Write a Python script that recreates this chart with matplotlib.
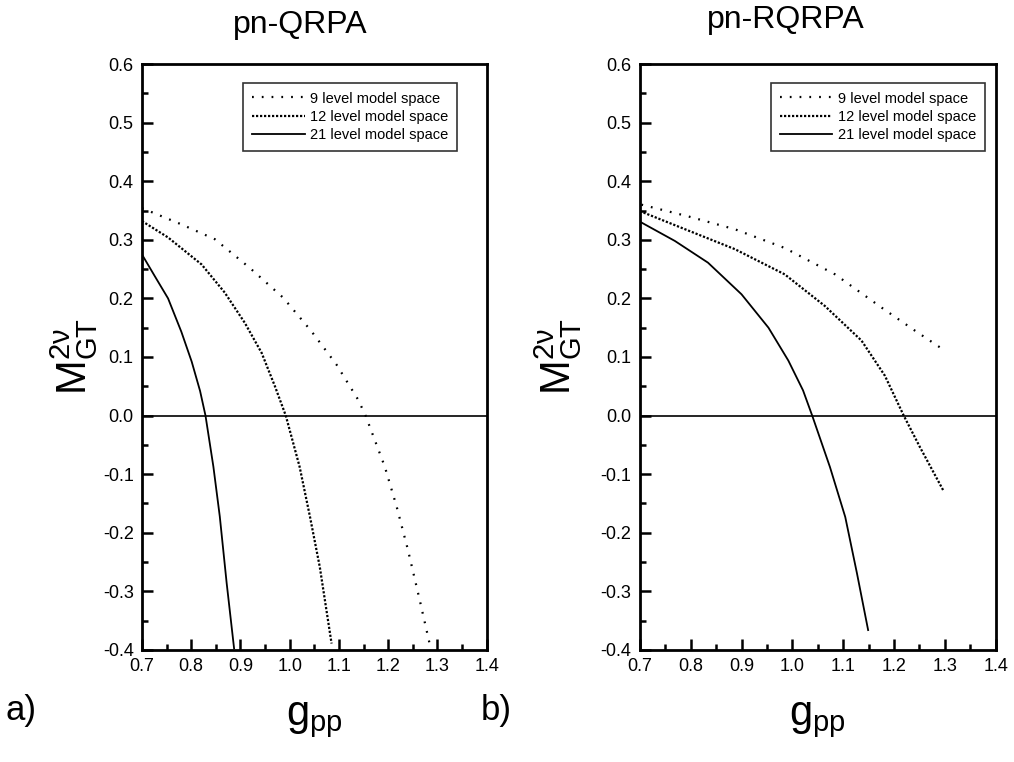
import matplotlib
matplotlib.use("Agg")
import matplotlib.pyplot as plt
from matplotlib.ticker import MultipleLocator, FormatStrFormatter

plt.rcParams['font.family'] = ['Liberation Sans', 'DejaVu Sans']
plt.rcParams['mathtext.fontset'] = 'custom'
plt.rcParams['mathtext.rm'] = 'Liberation Sans'
plt.rcParams['mathtext.it'] = 'Liberation Sans'

# pn-QRPA (panel a)
qrpa_9_x = [0.70, 0.706, 0.781, 0.848, 0.919, 0.987, 1.044, 1.095, 1.139, 1.154,
            1.193, 1.217, 1.240, 1.264, 1.284]
qrpa_9_y = [0.354, 0.352, 0.326, 0.301, 0.252, 0.201, 0.144, 0.087, 0.027, 0.0,
            -0.087, -0.155, -0.229, -0.315, -0.389]
qrpa_12_x = [0.70, 0.753, 0.821, 0.868, 0.909, 0.943, 0.970, 0.992, 1.020, 1.041,
             1.061, 1.085]
qrpa_12_y = [0.332, 0.304, 0.258, 0.210, 0.158, 0.107, 0.050, 0.0, -0.087, -0.172,
             -0.258, -0.389]
qrpa_21_x = [0.70, 0.726, 0.753, 0.780, 0.801, 0.818, 0.829, 0.845, 0.858, 0.872, 0.887]
qrpa_21_y = [0.275, 0.238, 0.200, 0.143, 0.092, 0.042, 0.0, -0.087, -0.172, -0.286, -0.397]

# pn-RQRPA (panel b)
rqrpa_9_x = [0.703, 0.795, 0.887, 0.985, 1.084, 1.176, 1.241, 1.291]
rqrpa_9_y = [0.360, 0.340, 0.318, 0.286, 0.241, 0.184, 0.145, 0.116]
rqrpa_12_x = [0.70, 0.789, 0.887, 0.985, 1.064, 1.136, 1.182, 1.219, 1.251, 1.297]
rqrpa_12_y = [0.349, 0.318, 0.284, 0.241, 0.187, 0.128, 0.068, 0.0, -0.054, -0.128]
rqrpa_21_x = [0.70, 0.769, 0.834, 0.900, 0.953, 0.992, 1.021, 1.039, 1.074, 1.104,
              1.127, 1.149]
rqrpa_21_y = [0.331, 0.298, 0.261, 0.207, 0.150, 0.094, 0.043, 0.0, -0.088, -0.173,
              -0.269, -0.366]

labels = ["9 level model space", "12 level model space", "21 level model space"]
titles = ["pn-QRPA", "pn-RQRPA"]
panel_tags = ["a)", "b)"]

fig = plt.figure(figsize=(10.14, 7.62), dpi=100)
ax1 = fig.add_axes([0.140, 0.147, 0.340, 0.769])
ax2 = fig.add_axes([0.631, 0.147, 0.351, 0.769])

data = [
    (ax1, qrpa_9_x, qrpa_9_y, qrpa_12_x, qrpa_12_y, qrpa_21_x, qrpa_21_y),
    (ax2, rqrpa_9_x, rqrpa_9_y, rqrpa_12_x, rqrpa_12_y, rqrpa_21_x, rqrpa_21_y),
]
title_x = [0.46, 0.41]
leg_anchor = [(0.915, 0.968), (0.97, 0.968)]

for i, (ax, x9, y9, x12, y12, x21, y21) in enumerate(data):
    ax.plot(x9, y9, color='k', lw=1.6, linestyle=(0, (0.8, 3.6)), label=labels[0])
    ax.plot(x12, y12, color='k', lw=1.6, linestyle=(0, (1.0, 0.8)), label=labels[1])
    ax.plot(x21, y21, color='k', lw=1.3, linestyle='-', label=labels[2])
    ax.axhline(0.0, color='k', lw=1.2)
    ax.set_xlim(0.7, 1.4)
    ax.set_ylim(-0.4, 0.6)
    ax.xaxis.set_major_locator(MultipleLocator(0.1))
    ax.xaxis.set_minor_locator(MultipleLocator(0.05))
    ax.yaxis.set_major_locator(MultipleLocator(0.1))
    ax.yaxis.set_minor_locator(MultipleLocator(0.05))
    ax.xaxis.set_major_formatter(FormatStrFormatter('%.1f'))
    ax.yaxis.set_major_formatter(FormatStrFormatter('%.1f'))
    ax.tick_params(which='both', direction='in', top=False, right=False, width=1.8, labelsize=13)
    ax.tick_params(which='major', length=8, pad=6)
    ax.tick_params(which='minor', length=4)
    for s in ax.spines.values():
        s.set_linewidth(2)
    ax.set_xlabel(r'$\mathregular{g_{pp}}$', fontsize=30, labelpad=18)
    ax.set_ylabel(r'$\mathregular{M^{2\nu}_{GT}}$', fontsize=30, labelpad=2 if i == 0 else 12)
    ax.set_title(titles[i], fontsize=23, x=title_x[i], pad=22 if i == 0 else 26)
    leg = ax.legend(loc='upper right', bbox_to_anchor=leg_anchor[i],
                    fontsize=10.5, frameon=True, fancybox=False, handlelength=3.6,
                    handletextpad=0.4, borderpad=0.6, labelspacing=0.3,
                    borderaxespad=0)
    leg.get_frame().set_edgecolor('k')
    leg.get_frame().set_linewidth(1.2)

fig.text(0.005, 0.055, panel_tags[0], fontsize=25)
fig.text(0.474, 0.055, panel_tags[1], fontsize=25)

fig.savefig("out.png", dpi=100)
